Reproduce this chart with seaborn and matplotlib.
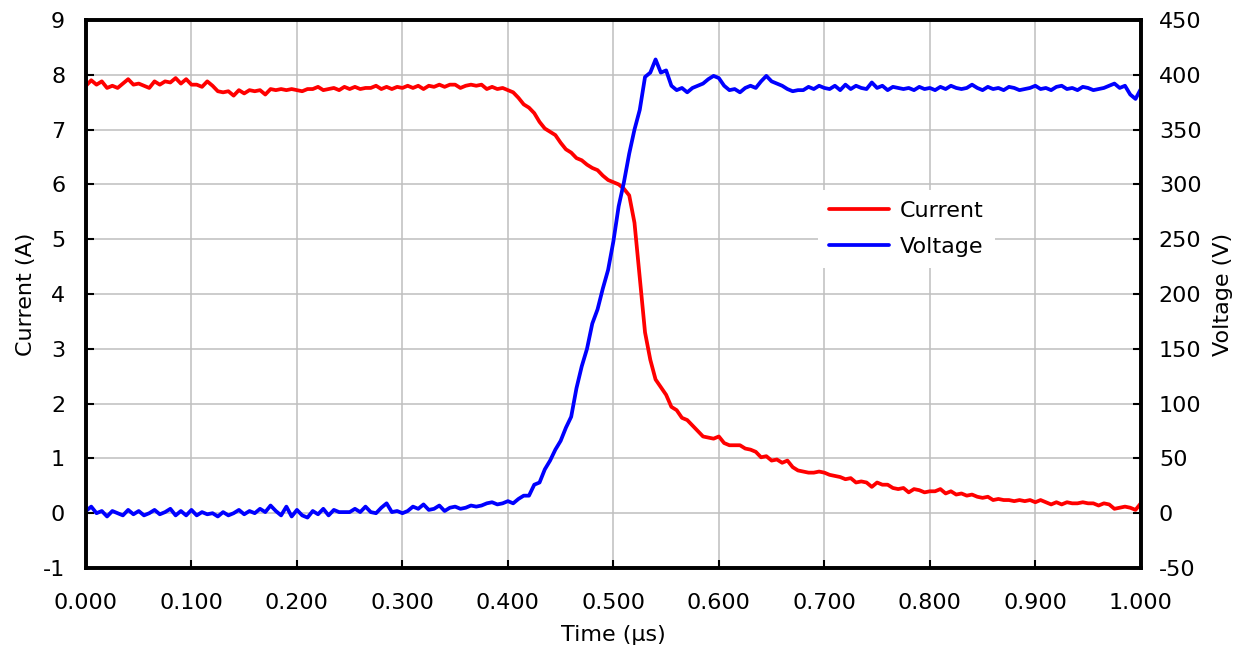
import matplotlib
matplotlib.use("Agg")

import matplotlib.pyplot as plt
import numpy as np
import pandas as pd
import seaborn as sns

# ── Data (5 ns step) ──────────────────────────────────────────────
time_us = np.round(np.arange(0, 201) * 0.005, 3)

current_a = [
    7.80, 7.90, 7.82, 7.88, 7.76, 7.80, 7.76, 7.84, 7.92, 7.82,
    7.84, 7.80, 7.76, 7.88, 7.82, 7.88, 7.86, 7.94, 7.84, 7.92,
    7.82, 7.82, 7.78, 7.88, 7.80, 7.70, 7.68, 7.70, 7.62, 7.72,
    7.66, 7.72, 7.70, 7.72, 7.64, 7.74, 7.72, 7.74, 7.72, 7.74,
    7.72, 7.70, 7.74, 7.74, 7.78, 7.72, 7.74, 7.76, 7.72, 7.78,
    7.74, 7.78, 7.74, 7.76, 7.76, 7.80, 7.74, 7.78, 7.74, 7.78,
    7.76, 7.80, 7.76, 7.80, 7.74, 7.80, 7.78, 7.82, 7.78, 7.82,
    7.82, 7.76, 7.80, 7.82, 7.80, 7.82, 7.74, 7.78, 7.74, 7.76,
    7.72, 7.68, 7.58, 7.46, 7.40, 7.30, 7.14, 7.02, 6.96, 6.90,
    6.76, 6.64, 6.58, 6.48, 6.44, 6.36, 6.30, 6.26, 6.16, 6.08,
    6.04, 6.00, 5.92, 5.80, 5.30, 4.30, 3.30, 2.80, 2.44, 2.30,
    2.16, 1.94, 1.88, 1.74, 1.70, 1.60, 1.50, 1.40, 1.38, 1.36,
    1.40, 1.28, 1.24, 1.24, 1.24, 1.18, 1.16, 1.12, 1.02, 1.04,
    0.96, 0.98, 0.92, 0.96, 0.84, 0.78, 0.76, 0.74, 0.74, 0.76,
    0.74, 0.70, 0.68, 0.66, 0.62, 0.64, 0.56, 0.58, 0.56, 0.48,
    0.56, 0.52, 0.52, 0.46, 0.44, 0.46, 0.38, 0.44, 0.42, 0.38,
    0.40, 0.40, 0.44, 0.36, 0.40, 0.34, 0.36, 0.32, 0.34, 0.30,
    0.28, 0.30, 0.24, 0.26, 0.24, 0.24, 0.22, 0.24, 0.22, 0.24,
    0.20, 0.24, 0.20, 0.16, 0.20, 0.16, 0.20, 0.18, 0.18, 0.20,
    0.18, 0.18, 0.14, 0.18, 0.16, 0.08, 0.10, 0.12, 0.10, 0.06,
    0.18,
]

voltage_v = [
    2, 6, 0, 2, -3, 2, 0, -2, 3, -1,
    2, -2, 0, 3, -1, 1, 4, -2, 2, -2,
    3, -2, 1, -1, 0, -3, 1, -2, 0, 3,
    -1, 2, 0, 4, 1, 7, 2, -2, 6, -3,
    3, -2, -4, 2, -1, 4, -2, 3, 1, 1,
    1, 4, 1, 6, 1, 0, 5, 9, 1, 2,
    0, 2, 6, 4, 8, 3, 4, 7, 2, 5,
    6, 4, 5, 7, 6, 7, 9, 10, 8, 9,
    11, 9, 13, 16, 16, 26, 28, 40, 48, 58,
    66, 78, 88, 114, 134, 150, 173, 186, 205, 222,
    248, 280, 302, 328, 350, 368, 398, 402, 414, 402,
    404, 390, 386, 388, 384, 388, 390, 392, 396, 399,
    397, 390, 386, 387, 384, 388, 390, 388, 394, 399,
    394, 392, 390, 387, 385, 386, 386, 389, 387, 390,
    388, 387, 390, 386, 391, 387, 390, 388, 387, 393,
    388, 390, 386, 389, 388, 387, 388, 386, 389, 387,
    388, 386, 389, 387, 390, 388, 387, 388, 391, 388,
    386, 389, 387, 388, 386, 389, 388, 386, 387, 388,
    390, 387, 388, 386, 389, 390, 387, 388, 386, 389,
    388, 386, 387, 388, 390, 392, 388, 390, 382, 378,
    387,
]

x_ticks = [0.0, 0.1, 0.2, 0.3, 0.4, 0.5, 0.6, 0.7, 0.8, 0.9, 1.0]
current_ticks = [-1, 0, 1, 2, 3, 4, 5, 6, 7, 8, 9]
voltage_ticks = [-50, 0, 50, 100, 150, 200, 250, 300, 350, 400, 450]

df = pd.DataFrame({"time": time_us, "current": current_a, "voltage": voltage_v})

# ── Style ─────────────────────────────────────────────────────────
sns.set_style("white")
plt.rcParams["font.family"] = ["DejaVu Sans"]
plt.rcParams["axes.unicode_minus"] = False
plt.rcParams["text.color"] = "black"
plt.rcParams["axes.labelcolor"] = "black"
plt.rcParams["xtick.color"] = "black"
plt.rcParams["ytick.color"] = "black"
FS = 16

fig = plt.figure(figsize=(12.55, 6.6), dpi=100)
ax = fig.add_axes([0.0685, 0.1394, 0.8405, 0.8303])
ax2 = ax.twinx()

sns.lineplot(data=df, x="time", y="current", ax=ax, color="#ff0000",
             linewidth=2.7, label="Current", legend=False)
sns.lineplot(data=df, x="time", y="voltage", ax=ax2, color="#0000ff",
             linewidth=2.7, label="Voltage", legend=False)

ax.set_xlim(0, 1)
ax.set_ylim(-1, 9)
ax2.set_ylim(-50, 450)
ax.set_xticks(x_ticks)
ax.set_xticklabels([f"{v:.3f}" for v in x_ticks])
ax.set_yticks(current_ticks)
ax2.set_yticks(voltage_ticks)

ax.grid(True, color="#bfbfbf", linewidth=1.1)
ax.set_axisbelow(True)

ax.set_xlabel("Time (\u00b5s)", fontsize=FS, labelpad=9)
ax.set_ylabel("Current (A)", fontsize=FS, labelpad=5)
ax2.set_ylabel("Voltage (V)", fontsize=FS, labelpad=8)

for a in (ax, ax2):
    a.tick_params(direction="in", length=6, width=1.5, labelsize=FS)
    for s in a.spines.values():
        s.set_linewidth(2.6)
        s.set_color("black")
ax.tick_params(axis="x", top=False, bottom=True, pad=18)
ax.tick_params(axis="y", pad=15)
ax2.tick_params(axis="y", right=True, left=False, pad=13)

# legend from both axes
h1, l1 = ax.get_legend_handles_labels()
h2, l2 = ax2.get_legend_handles_labels()
leg = ax2.legend(h1 + h2, l1 + l2, loc="upper left",
                 bbox_to_anchor=(0.683, 0.71), fontsize=FS,
                 frameon=True, framealpha=1, edgecolor="white",
                 fancybox=False, handlelength=2.7, handletextpad=0.5,
                 labelspacing=0.7, borderpad=0.5)
leg.get_frame().set_linewidth(0)

fig.savefig("out.png", dpi=100)
plt.close(fig)
